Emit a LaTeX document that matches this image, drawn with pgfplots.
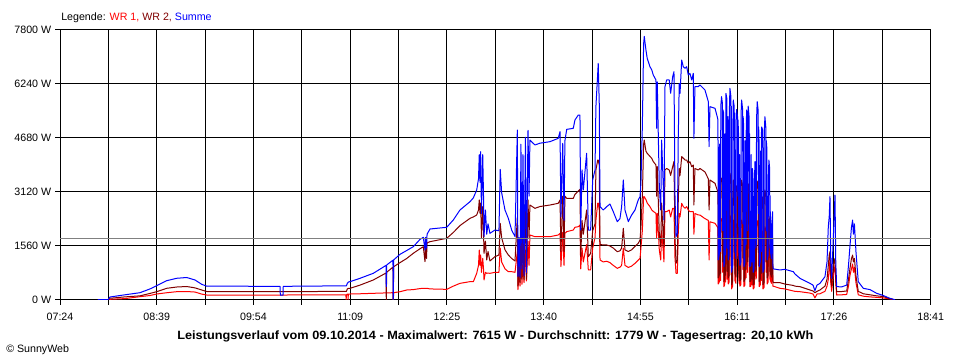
\documentclass[border=0pt]{standalone}
\usepackage{pgfplots}
\pgfplotsset{compat=1.18}
\usepackage{pgfplotstable}
\usepackage{fontspec}
\setmainfont{Liberation Sans}
\definecolor{wrone}{RGB}{255,0,0}
\definecolor{wrtwo}{RGB}{128,0,0}
\definecolor{summe}{RGB}{0,0,255}
\definecolor{avg}{RGB}{128,128,128}
\pgfplotstableread{
t wr1 wr2 sum
473.5 0 0 10
481.3 0 0 10
482.9 20 50 87
494.5 40 90 150
506.2 96 120 211
514.0 130 190 320
519.2 173 240 413
527.0 210 338 558
534.7 240 375 627
542.5 245 390 650
549.0 230 350 578
554.2 170 289 453
558.1 144 245 400
615.1 144 240 395
615.3 144 240 140
617.4 144 240 140
617.6 144 240 395
666.3 150 250 410
666.5 0 250 410
666.7 150 250 410
667.4 170 320 482
667.9 170 330 500
668.0 0 330 500
668.2 173 338 520
669.5 173 338 530
677.3 180 430 627
687.6 193 578 771
697.5 205 780 1000
697.7 205 0 385
698.0 205 800 1011
702.9 211 950 1150
703.1 0 0 0
703.5 211 963 1160
708.4 240 1080 1320
713.6 289 1200 1430
718.7 300 1349 1540
723.9 330 1480 1750
726.5 338 1540 1811
727.8 338 1108 1444
728.2 338 1540 1811
729.0 338 1200 1500
729.4 338 1650 1900
731.7 320 1685 2051
744.7 308 1782 2100
749.8 400 1950 2311
755.0 481 2150 2600
762.8 530 2359 2840
765.4 530 2400 2950
768.0 770 2455 3178
769.4 1000 2600 3500
770.0 1444 2889 4200
770.6 1000 2500 3400
771.1 1300 2800 4285
771.7 800 1800 2500
772.7 1200 2700 4200
773.3 900 2000 3000
773.7 578 1349 1829
774.8 800 1700 2600
775.8 770 1156 1900
776.8 780 1400 2200
778.3 770 1127 1926
782.2 800 1252 2022
785.3 800 1300 2000
786.3 1500 2215 3775
787.4 1100 1800 3100
790.0 900 1450 2600
792.6 819 1300 2359
795.2 819 1200 2022
797.8 800 1127 1830
799.6 1400 2400 4911
800.1 300 400 674
800.9 819 1100 1800
801.7 400 500 650
802.4 1300 2500 4500
803.2 450 600 900
804.0 1200 2300 4200
804.8 501 578 700
805.9 1444 2889 4700
806.7 550 600 800
807.9 1700 2889 4900
808.7 1000 1800 3000
809.4 1878 2744 4622
813.3 1829 2648 4478
817.2 1829 2700 4530
825.0 1829 2744 4574
831.4 1878 2793 4670
832.8 1926 2889 4863
833.5 963 1400 2400
834.9 1950 3000 4525
835.9 1000 1400 2300
836.6 1926 3000 4600
838.0 1974 2937 4930
843.1 2022 2937 4959
844.4 2100 3050 5200
847.0 2118 3150 5344
848.3 2167 3197 5344
848.9 900 1252 2022
849.9 1500 2300 3756
850.9 1100 1900 3178
853.5 1600 2600 4237
854.8 867 1252 2022
856.6 867 1348 2022
858.2 1500 2000 3467
860.0 1800 2200 3756
860.7 2300 3756 5585
862.1 2793 4044 6548
862.5 2800 4044 6837
863.3 2600 3900 5681
863.9 1156 1605 2696
866.4 1100 1590 2600
869.1 1120 1589 2696
871.6 1080 1560 2773
874.2 1000 1500 2552
877.3 915 1396 2263
879.4 950 1420 2350
880.7 1000 1500 2696
882.0 1500 2071 3467
883.3 1000 1450 2600
885.9 940 1400 2263
888.5 980 1450 2455
891.1 1060 1550 2600
893.6 1150 1637 2889
895.0 1204 1733 2985
895.7 1500 2100 3370
896.8 2000 3000 5000
897.8 2985 4500 7400
898.3 2985 4622 7615
899.6 2900 4300 7222
900.6 2800 4237 6981
902.7 2700 4150 6741
904.1 2600 4093 6650
905.3 2560 4000 6500
907.4 2504 3900 6356
907.9 1800 3000 4959
908.4 2500 3850 6300
910.0 1444 1900 3274
911.1 1156 1540 2600
911.8 2000 2800 4622
913.1 1400 1800 3274
913.6 1100 1540 2311
914.4 2552 3756 6163
915.7 2552 3800 6356
917.7 2600 3756 6356
918.8 2400 3600 5970
920.4 2648 3852 6450
921.4 2648 4000 6596
922.2 1200 1785 2985
923.0 770 1060 1829
924.0 770 1156 1926
924.7 1900 2800 4622
925.5 2500 3800 6259
926.1 2400 3600 5970
927.4 2793 4141 6933
928.6 2700 4100 6741
930.0 2650 4044 6693
931.3 2700 4044 6741
932.5 2600 3950 6500
933.8 2552 3996 6548
935.2 2550 3852 6356
936.4 2552 3900 6548
936.9 1900 2744 4670
937.7 2500 3800 6163
940.3 2456 3756 6163
941.6 2455 3800 6211
945.5 2350 3700 6067
948.1 2300 3500 5730
948.7 1156 2600 4430
949.4 2260 3467 5585
953.3 2215 3370 5537
955.0 2120 3180 5300
955.6 2080 3120 5200
955.8 462 636 1156
956.6 520 715 1300
956.8 1800 2700 4500
957.2 600 825 1500
957.6 560 770 1400
957.8 2240 3360 5600
958.4 2350 3524 5874
959.0 2280 3420 5700
959.2 800 1100 2000
959.4 2200 3300 5500
960.0 2160 3240 5400
960.2 385 530 963
960.8 440 605 1100
961.0 1920 2880 4800
961.3 520 715 1300
961.6 520 715 1300
961.8 2388 3582 5970
962.6 2320 3480 5800
962.8 600 825 1500
963.0 2080 3120 5200
963.4 2120 3180 5300
963.6 462 636 1156
964.3 520 715 1300
964.5 2200 3300 5500
964.9 2446 3669 6115
965.6 2360 3540 5900
965.8 720 990 1800
966.0 2240 3360 5600
966.2 320 440 800
967.0 400 550 1000
967.2 2000 3000 5000
967.5 2311 3467 5778
968.2 2240 3360 5600
968.4 1000 1375 2500
968.6 2160 3240 5400
968.8 560 770 1400
969.6 480 660 1200
969.8 2080 3120 5200
970.1 2200 3300 5500
970.8 2120 3180 5300
971.0 1200 1800 3000
971.2 2080 3120 5200
971.6 1920 2880 4800
971.8 600 825 1500
972.2 462 636 1156
972.4 1680 2520 4200
972.7 400 550 1000
973.4 440 605 1100
973.6 2160 3240 5400
974.0 2311 3467 5778
974.8 2200 3300 5500
975.0 880 1210 2200
975.2 2120 3180 5300
975.6 2000 3000 5000
975.8 385 530 963
976.6 440 605 1100
976.8 1840 2760 4600
977.1 720 990 1800
977.4 640 880 1600
977.6 2000 3000 5000
977.9 2196 3293 5489
978.4 2120 3180 5300
978.6 800 1100 2000
978.9 2080 3120 5200
979.1 2240 3360 5600
979.8 2120 3180 5300
980.0 720 990 1800
980.2 1920 2880 4800
980.4 385 530 963
981.2 400 550 1000
981.4 1680 2520 4200
981.8 480 660 1200
982.2 440 605 1100
982.4 1520 2280 3800
982.8 1440 2160 3600
983.0 320 440 800
983.8 360 495 900
984.0 1400 2100 3500
984.4 1600 2400 4000
984.8 1520 2280 3800
985.0 600 825 1500
985.4 640 880 1600
985.6 2080 3120 5200
986.1 2292 3438 5730
986.8 2200 3300 5500
987.0 1000 1375 2500
987.2 2000 3000 5000
987.5 1920 2880 4800
987.7 385 530 963
988.5 440 605 1100
988.7 1720 2580 4300
989.0 600 825 1500
989.3 560 770 1400
989.4 1920 2880 4800
989.6 2000 3000 5000
990.4 1960 2940 4900
990.6 320 440 800
991.4 360 495 900
991.6 1920 2880 4800
992.1 2118 3178 5296
992.8 2000 3000 5000
993.0 800 1100 2000
993.2 1840 2760 4600
993.6 1760 2640 4400
993.9 462 636 1156
994.6 520 715 1300
994.8 1400 2100 3500
995.2 1618 2426 4044
995.8 1520 2280 3800
996.0 600 825 1500
996.2 1200 1800 3000
996.4 560 770 1400
997.2 480 660 1200
997.4 880 1210 2200
998.1 1021 1531 2552
998.3 400 550 1000
998.6 400 500 900
1003.8 337 501 867
1007.7 320 460 886
1014.2 260 420 818
1015.5 250 400 750
1019.4 240 385 626
1027.1 200 289 482
1029.5 173 260 430
1031.0 60 211 269
1032.6 173 250 430
1034.9 180 289 480
1038.8 250 400 674
1040.4 400 600 1100
1041.4 600 1000 2118
1042.1 900 1300 2400
1042.7 1156 1396 2985
1043.3 500 700 1200
1044.0 250 400 626
1045.3 700 1000 1800
1046.6 1000 1200 3033
1047.2 500 600 1100
1047.9 144 241 385
1051.8 150 245 380
1055.7 160 260 430
1057.1 400 600 1000
1058.2 700 900 1540
1059.4 900 1200 2100
1060.3 1040 1300 2311
1060.9 800 1100 1900
1061.7 950 1200 2200
1062.9 500 700 1400
1064.7 150 250 530
1068.6 110 180 337
1073.8 90 150 300
1079.0 77 120 193
1084.1 60 100 130
1089.3 30 40 48
1093.2 0 0 10
}\data
\begin{document}
\fontsize{8}{9.6}\selectfont
\begin{tikzpicture}
\useasboundingbox (0,0) rectangle (720pt,270pt);
\begin{axis}[
  at={(45pt,45pt)}, anchor=south west,
  width=653pt, height=202.5pt, scale only axis,
  xmin=444, xmax=1121, ymin=0, ymax=7800,
  xtick={444,519.22,594.44,669.67,744.89,820.11,895.33,970.56,1045.78,1121},
  xticklabels={07:24,08:39,09:54,11:09,12:25,13:40,14:55,16:11,17:26,18:41},
  minor xtick={481.61,556.83,632.06,707.28,782.5,857.72,932.94,1008.17,1083.39},
  ytick={0,1560,3120,4680,6240,7800},
  yticklabels={0 W,1560 W,3120 W,4680 W,6240 W,7800 W},
  grid=both,
  major grid style={black, line width=0.75pt},
  minor grid style={black, line width=0.75pt},
  axis line style={black, line width=0.75pt},
  tick style={black, line width=0.75pt},
  tick align=outside,
  major tick length=3.75pt,
  minor tick length=3.75pt,
  xtick pos=bottom, ytick pos=left,
  ticklabel style={font=\fontsize{8}{9.6}\selectfont},
  xticklabel style={yshift=-3pt},
  every axis plot/.append style={line width=0.75pt, line join=round, no markers},
]
\addplot[wrone] table[x=t, y=wr1] {\data};
\addplot[wrtwo] table[x=t, y=wr2] {\data};
\addplot[summe] table[x=t, y=sum] {\data};
\addplot[avg] coordinates {(444,1779) (1121,1779)};
\end{axis}
\node[anchor=base west, inner sep=0pt] at (45.75pt,254.5pt) {Legende: \textcolor{wrone}{WR 1,} \textcolor{wrtwo}{WR 2,} \textcolor{summe}{Summe}};
\node[anchor=base, inner sep=0pt, xscale=1.06] at (371.5pt,15pt) {\fontsize{9}{10.8}\selectfont\bfseries Leistungsverlauf vom 09.10.2014 - Maximalwert: 7615 W - Durchschnitt: 1779 W - Tagesertrag: 20,10 kWh};
\node[anchor=base west, inner sep=0pt] at (4.5pt,5.5pt) {\textcopyright{} SunnyWeb};
\end{tikzpicture}
\end{document}
